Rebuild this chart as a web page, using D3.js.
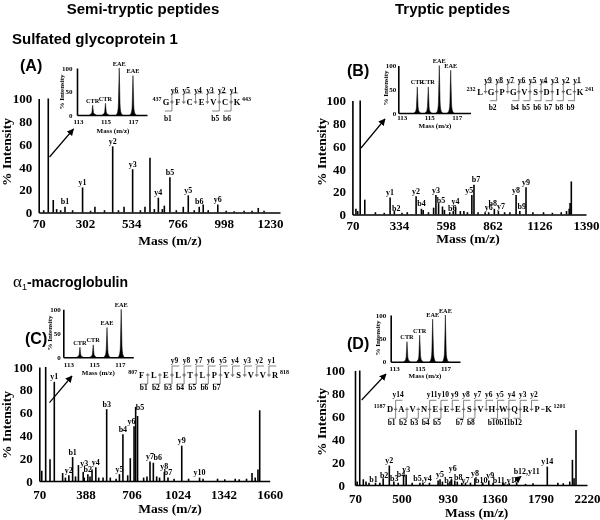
<!DOCTYPE html>
<html><head><meta charset="utf-8">
<script src="https://cdn.jsdelivr.net/npm/d3@7"></script>
<style>body{margin:0;background:#fff}svg{display:block;will-change:transform}</style>
</head><body>
<svg id="c" width="600" height="520"></svg>
<script>
// ================= DATA =================
const intensityTicks = [0, 20, 40, 60, 80, 100];
const insetMassTicks = [113, 115, 117];
const insetIntTicks = [0, 50, 100];

// Panel A – Sulfated glycoprotein 1 (semi-tryptic)
const massTicksA = [70, 302, 534, 766, 998, 1230];
const peaksA = [[118,100,""],[143,11,""],[202,5,"b1"],[290,22,"y1"],[352,5,""],[441,58,"y2"],[498,5,""],[541,38,"y3"],[603,5,""],[628,48,""],[670,13,"y4"],[700,6,""],[728,31,"b5"],[795,5,""],[820,15,"y5"],[875,5,"b6"],[895,7,""],[968,7,"y6"],[1171,4,""]];
const minorA = [[95,2],[160,3],[180,2],[240,2],[330,1.5],[400,2],[470,2],[580,2],[650,3],[690,3],[760,2],[850,2],[920,2],[1010,1.5],[1050,1],[1100,1.5],[1140,1.5],[1200,1.5]];
const insetA = [[114.07,21,"CTR"],[115.0,25,"CTR"],[116.0,100,"EAE"],[117.0,84,"EAE"]];
const seqA = ["G","F","C","E","V","C","K"];
const seqRangeA = [437, 443];
const yIonsA = ["y6","y5","y4","y3","y2","y1"];
const bIonsA = ["b1","b5","b6"];

// Panel B – Sulfated glycoprotein 1 (tryptic)
const massTicksB = [70, 334, 598, 862, 1126, 1390];
const peaksB = [[90,5,""],[114,100,""],[140,13,""],[283,15,"y1"],[307,3,"b2"],[430,16,"y2"],[460,5,"b4"],[470,4,""],[529,6,""],[542,17,"y3"],[557,10,"b5"],[579,7,""],[590,4,""],[640,3,"b6"],[653,7,"y4"],[700,3,""],[745,17,"y5"],[757,26,"b7"],[840,2,"y6"],[872,5,"b8"],[895,3,"y7"],[995,17,"y8"],[1016,3,"b9"],[1051,24,"y9"],[1300,10,""],[1307,29,""]];
const minorB = [[100,3],[200,2],[250,1.5],[350,1.5],[380,2],[500,2],[620,2],[680,3],[720,2],[780,2],[820,2],[930,2],[960,2],[1090,2],[1150,2],[1200,1.5],[1250,2],[1280,3],[1295,5]];
const insetB = [[114.13,55,"CTR"],[114.93,55,"CTR"],[115.73,100,"EAE"],[116.56,90,"EAE"]];
const seqB = ["L","G","P","G","V","S","D","I","C","K"];
const seqRangeB = [232, 241];
const yIonsB = ["y9","y8","y7","y6","y5","y4","y3","y2","y1"];
const bIonsB = ["b2","b4","b5","b6","b7","b8","b9"];

// Panel C – alpha1-macroglobulin (semi-tryptic)
const massTicksC = [70, 388, 706, 1024, 1342, 1660];
const peaksC = [[87,9,""],[114,100,""],[144,19,""],[173.5,87,"y1"],[231,7,""],[274,5,"y2"],[300,21,"b1"],[340,14,""],[373,8,"y3"],[405,6,"b2"],[434,10,""],[460,12,"y4"],[535,63,"b3"],[623,6,"y5"],[647,41,"b4"],[698,20,""],[724,48,"y6"],[735,65,""],[748,57,"b5"],[813,4,""],[834,17,"y7"],[857,16,"b6"],[933,8,"y8"],[958,3,"b7"],[1053,31,"y9"],[1176,3,"y10"],[1422,2,""],[1538,7,""],[1579,10,""],[1591,62,""]];
const minorC = [[250,3],[320,4],[380,3],[420,4],[480,3],[510,3],[560,3],[600,2],[680,5],[790,3],[880,4],[900,3],[1000,2],[1100,2],[1200,2],[1300,2],[1350,1.5],[1450,1.5],[1500,2],[1560,3]];
const insetC = [[113.9,21,"CTR"],[114.93,26,"CTR"],[116.0,62,"EAE"],[117.1,100,"EAE"]];
const seqC = ["F","L","E","L","T","L","P","Y","S","V","V","R"];
const seqRangeC = [807, 818];
const yIonsC = ["y9","y8","y7","y6","y5","y4","y3","y2","y1"];
const bIonsC = ["b1","b2","b3","b4","b5","b6","b7"];

// Panel D – alpha1-macroglobulin (tryptic)
const massTicksD = [70, 500, 930, 1360, 1790, 2220];
const peaksD = [[114,100,""],[147,5,""],[172,3,""],[260,2,"b1"],[331,6,"b2"],[388,17,"y2"],[430,3,"b3"],[520,8,"b4"],[544,9,"y3"],[672,2,"b5,y4"],[840,4,""],[858,5,"y5"],[880,3,""],[931,2,"b7"],[965,5,""],[995,4,"y6"],[1018,3,"b8"],[1094,2,"y7"],[1181,6,"y8"],[1254,2,"b10"],[1310,4,"y9"],[1440,2,"b11,y10"],[1568,2,"b12,y11"],[1852,16,"y14"],[2085,22,""],[2118,48,""]];
const minorD = [[90,3],[200,2],[300,2],[470,2],[600,2],[700,2],[760,2],[950,3],[1060,2],[1140,2],[1250,1.5],[1350,2],[1450,1.5],[1500,1.5],[1650,1],[1720,1.5],[1950,2],[2000,1.5],[2060,3],[2100,6]];
const insetD = [[114.0,43,"CTR"],[114.99,57,"CTR"],[116.0,91,"EAE"],[116.99,100,"EAE"]];
const seqD = ["D","A","V","N","E","E","E","S","V","H","W","Q","R","P","K"];
const seqRangeD = [1187, 1201];
const yIonsD = ["y14","y11","y10","y9","y8","y7","y6","y5","y4","y3","y2"];
const bIonsD = ["b1","b2","b3","b4","b5","b7","b8","b10","b11","b12"];

// ================= DRAWING =================
const SERIF = "'Liberation Serif','Times New Roman',serif";
const SANS = "'Liberation Sans',Arial,sans-serif";
const svg = d3.select("#c");
svg.append("rect").attr("width",600).attr("height",520).attr("fill","#fff");
svg.append("defs").append("marker").attr("id","ah")
  .attr("viewBox","0 0 10 10").attr("refX",9).attr("refY",5)
  .attr("markerWidth",7).attr("markerHeight",7).attr("markerUnits","userSpaceOnUse")
  .attr("orient","auto").append("path").attr("d","M0,0L10,5L0,10z").attr("fill","#000");

function txt(g, x, y, s, size, opts = {}) {
  return g.append("text").attr("x", x).attr("y", y).text(s)
    .attr("font-family", opts.family || SERIF).attr("font-weight", opts.weight || "bold")
    .attr("font-size", size).attr("text-anchor", opts.anchor || "middle").attr("fill", "#000");
}
function styleAxis(a, size) {
  a.select(".domain").attr("stroke", "#000").attr("stroke-width", 1.6);
  a.selectAll("line").attr("stroke", "#000");
  a.selectAll("text").attr("font-family", SERIF).attr("font-weight", "bold")
    .attr("font-size", size).attr("fill", "#000");
}

function drawSpectrum(L, peaks, minor, ticks, nudge) {
  const x = d3.scaleLinear().domain(L.xd).range(L.xr);
  const y = d3.scaleLinear().domain([0, 100]).range(L.yr);
  const g = svg.append("g");
  const all = minor.map(d => [d[0], d[1], ""]).concat(peaks);
  g.append("g").selectAll("line").data(all).join("line")
    .attr("x1", d => x(d[0])).attr("x2", d => x(d[0]))
    .attr("y1", y(0)).attr("y2", d => y(d[1]))
    .attr("stroke", "#000").attr("stroke-width", 1.6);
  const xg = g.append("g").attr("transform", `translate(0,${y(0)})`)
    .call(d3.axisBottom(x).tickValues(ticks).tickSize(0).tickSizeOuter(0).tickPadding(L.xpad).tickFormat(d3.format("d")));
  styleAxis(xg, 13);
  const yg = g.append("g").attr("transform", `translate(${L.xr[0]},0)`)
    .call(d3.axisLeft(y).tickValues(intensityTicks).tickSize(0).tickSizeOuter(0).tickPadding(L.ypad));
  styleAxis(yg, 13);
  g.append("g").selectAll("text").data(peaks.filter(d => d[2])).join("text")
    .attr("x", d => x(d[0]) + ((nudge[d[2]] || [0, 0])[0]))
    .attr("y", d => y(d[1]) - 2.5 + ((nudge[d[2]] || [0, 0])[1]))
    .attr("text-anchor", "middle").attr("font-family", SERIF).attr("font-weight", "bold")
    .attr("font-size", 8).text(d => d[2]);
  txt(g, L.xt[0], L.xt[1], "Mass (m/z)", 13.5);
  txt(g, 0, 0, "% Intensity", 13.5).attr("transform", `translate(${L.yt[0]},${L.yt[1]}) rotate(-90)`)
    .attr("dominant-baseline", "central");
  return { x, y };
}

function drawInset(L, peaks) {
  const x = d3.scaleLinear().domain(L.xd).range(L.xr);
  const y = d3.scaleLinear().domain([0, 100]).range(L.yr);
  const g = svg.append("g");
  g.append("g").selectAll("path").data(peaks).join("path")
    .attr("d", d => {
      const px = x(d[0]), b = y(0), t = y(d[1]), m = b - (b - t) * 0.25;
      return `M${px - 3.2},${b} Q${px - 1},${b - 1} ${px - 0.8},${m} L${px},${t} L${px + 0.8},${m} Q${px + 1},${b - 1} ${px + 3.2},${b}Z`;
    }).attr("fill", "#000").attr("stroke", "#000").attr("stroke-width", 0.5);
  const xg = g.append("g").attr("transform", `translate(0,${y(0)})`)
    .call(d3.axisBottom(x).tickValues(insetMassTicks).tickSize(0).tickSizeOuter(0).tickPadding(L.xpad).tickFormat(d3.format("d")));
  styleAxis(xg, 7);
  const yg = g.append("g").attr("transform", `translate(${L.xr[0]},0)`)
    .call(d3.axisLeft(y).tickValues(insetIntTicks).tickSize(0).tickSizeOuter(0).tickPadding(L.ypad).tickFormat(d3.format("d")));
  styleAxis(yg, 7);
  g.append("g").selectAll("text").data(peaks).join("text")
    .attr("x", d => x(d[0])).attr("y", d => y(d[1]) - 2.5)
    .attr("text-anchor", "middle").attr("font-family", SERIF).attr("font-weight", "bold")
    .attr("font-size", 6.3).text(d => d[2]);
  txt(g, L.xt[0], L.xt[1], "Mass (m/z)", 7);
  txt(g, 0, 0, "% Intensity", 7).attr("transform", `translate(${L.yt[0]},${L.yt[1]}) rotate(-90)`)
    .attr("dominant-baseline", "central");
}

function drawSequence(L, residues, range, yIons, bIons) {
  const n = residues.length;
  const px = d3.scaleLinear().domain([0, n - 1]).range([L.x0, L.x1]);
  const step = (L.x1 - L.x0) / (n - 1);
  const g = svg.append("g");
  g.append("g").selectAll("line").data(d3.range(1, n)).join("line")
    .attr("x1", k => px(k - 0.5) - 1.7).attr("x2", k => px(k - 0.5) + 1.7)
    .attr("y1", L.y).attr("y2", L.y).attr("stroke", "#444").attr("stroke-width", 0.9);
  const yk = yIons.map(s => ({ s, k: n - (+s.slice(1)) }));
  const bk = bIons.map(s => ({ s, k: +s.slice(1) }));
  g.append("g").selectAll("path").data(yk).join("path")
    .attr("d", d => { const bx = px(d.k - 0.5); return `M${bx + step * 0.6},${L.y - L.h}H${bx}V${L.y + 2}`; })
    .attr("fill", "none").attr("stroke", "#666").attr("stroke-width", 0.8);
  g.append("g").selectAll("path").data(bk).join("path")
    .attr("d", d => { const bx = px(d.k - 0.5); return `M${bx - step * 0.6},${L.y + L.h}H${bx}V${L.y - 2}`; })
    .attr("fill", "none").attr("stroke", "#666").attr("stroke-width", 0.8);
  g.append("g").selectAll("text").data(residues).join("text")
    .attr("x", (d, i) => px(i)).attr("y", L.y + 2.9).attr("text-anchor", "middle")
    .attr("font-family", SERIF).attr("font-weight", "bold").attr("font-size", 8.5).text(d => d);
  g.append("g").selectAll("text").data(yk).join("text")
    .attr("x", d => px(d.k - 0.5) + 2.5).attr("y", L.yLab + 2.5).attr("text-anchor", "middle")
    .attr("font-family", SERIF).attr("font-weight", "bold").attr("font-size", 7.5).text(d => d.s);
  g.append("g").selectAll("text").data(bk).join("text")
    .attr("x", d => px(d.k - 0.5) - 4).attr("y", L.bLab + 2.5).attr("text-anchor", "middle")
    .attr("font-family", SERIF).attr("font-weight", "bold").attr("font-size", 7.5).text(d => d.s);
  txt(g, L.x0 - 4.5, L.y - 1, range[0], 6, { anchor: "end" });
  txt(g, L.x1 + 5, L.y - 1, range[1], 6, { anchor: "start" });
}

function arrow(x1, y1, x2, y2, w = 1.2) {
  svg.append("line").attr("x1", x1).attr("y1", y1).attr("x2", x2).attr("y2", y2)
    .attr("stroke", "#000").attr("stroke-width", w).attr("marker-end", "url(#ah)");
}

// ---- headings ----
const H = svg.append("g");
txt(H, 143, 13.5, "Semi-tryptic peptides", 15, { family: SANS });
txt(H, 452.5, 13.5, "Tryptic peptides", 15, { family: SANS });
txt(H, 12, 43.5, "Sulfated glycoprotein 1", 15, { family: SANS, anchor: "start" });
txt(H, 20, 70.5, "(A)", 16, { family: SANS, anchor: "start" });
txt(H, 347, 75.5, "(B)", 16, { family: SANS, anchor: "start" });
txt(H, 25, 343.5, "(C)", 16, { family: SANS, anchor: "start" });
txt(H, 347, 348.5, "(D)", 16, { family: SANS, anchor: "start" });
const tC = H.append("text").attr("x", 13).attr("y", 287).attr("fill", "#000");
tC.append("tspan").text("α").attr("font-family", SERIF).attr("font-size", 17);
tC.append("tspan").text("1").attr("font-family", SANS).attr("font-size", 9).attr("dy", 3);
tC.append("tspan").text("-macroglobulin").attr("font-family", SANS).attr("font-weight", "bold")
  .attr("font-size", 14).attr("dy", -3);

// ---- spectra ----
drawSpectrum({ xd: [70, 1280], xr: [38.7, 280], yr: [212.5, 98.5], xpad: 6, ypad: 6.5, xt: [170, 245], yt: [6, 152] },
  peaksA, minorA, massTicksA, {});
drawSpectrum({ xd: [70, 1390], xr: [352.4, 586], yr: [214.5, 100.5], xpad: 6, ypad: 6.5, xt: [468, 243], yt: [321, 152] },
  peaksB, minorB, massTicksB, { b2: [2, 2], b5: [2.5, 2], b6: [-1, 2], y5: [-2.5, 0], b7: [2, 0], b8: [-1.5, 0], y7: [2.5, 0], b9: [2, 0] });
drawSpectrum({ xd: [70, 1660], xr: [39.3, 269.7], yr: [481, 367], xpad: 9, ypad: 6.5, xt: [170, 513], yt: [6, 425] },
  peaksC, minorC, massTicksC, { y3: [1, -3], y6: [-2.5, 0], b5: [2.5, -4], b6: [4.5, 0] });
drawSpectrum({ xd: [70, 2220], xr: [355, 587], yr: [485, 370.5], xpad: 8.5, ypad: 10, xt: [476.7, 517], yt: [321, 422] },
  peaksD, minorD, massTicksD, { b1: [-2, 2], b2: [1, 2], b3: [0.5, 2], b4: [-2.6, 4], "b5,y4": [2.5, 1], b7: [0.5, 2.6], y6: [-2, -7], b8: [1, 1], y7: [0, 2.6], b10: [-1.5, 2.6], y9: [1.5, 0], "b11,y10": [3, 2.6], "b12,y11": [10, -6] });

// ---- insets ----
drawInset({ xd: [112.93, 118.02], xr: [77, 147], yr: [115, 68], xpad: 4, ypad: 4.5, xt: [113, 133], yt: [62, 92] }, insetA);
drawInset({ xd: [112.75, 118.0], xr: [398.3, 470.5], yr: [113, 65.5], xpad: 2.5, ypad: 2, xt: [435, 127.5], yt: [386, 88] }, insetB);
drawInset({ xd: [112.61, 118.04], xr: [63.3, 133.3], yr: [357.3, 309.3], xpad: 4.5, ypad: 2.5, xt: [98.3, 374.5], yt: [50, 333] }, insetC);
drawInset({ xd: [112.73, 118.13], xr: [390.7, 460], yr: [361.7, 315], xpad: 4, ypad: 4.5, xt: [425, 378], yt: [378.3, 338] }, insetD);

// ---- sequences ----
drawSequence({ x0: 166, x1: 237, y: 102, yLab: 90, bLab: 118, h: 9 }, seqA, seqRangeA, yIonsA, bIonsA);
drawSequence({ x0: 480, x1: 580, y: 91.7, yLab: 80, bLab: 107.7, h: 9 }, seqB, seqRangeB, yIonsB, bIonsB);
drawSequence({ x0: 141.7, x1: 275, y: 375, yLab: 360, bLab: 387.5, h: 9 }, seqC, seqRangeC, yIonsC, bIonsC);
drawSequence({ x0: 390, x1: 548.5, y: 409.3, yLab: 394, bLab: 422.7, h: 9 }, seqD, seqRangeD, yIonsD, bIonsD);

// ---- arrows ----
arrow(49.5, 157, 73.5, 129);
arrow(361, 148, 385, 119);
arrow(49.5, 402.7, 72, 376);
arrow(361.7, 400, 386, 374);
arrow(514, 482, 521, 476.5, 0.8);
</script>
</body></html>
